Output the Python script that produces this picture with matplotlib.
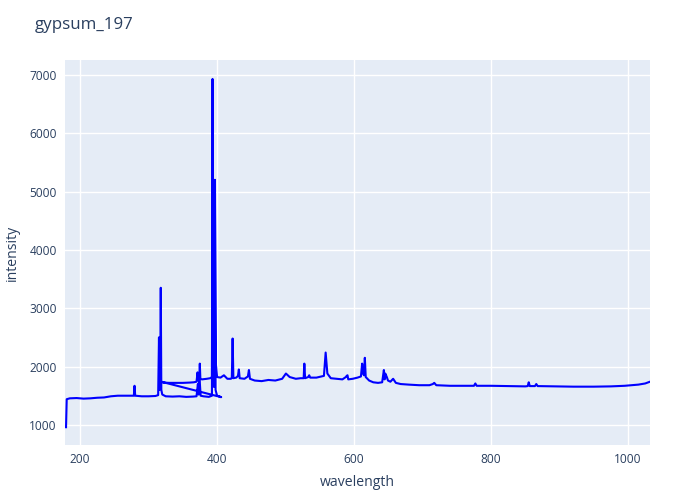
import numpy as np
import matplotlib
matplotlib.use("Agg")
import matplotlib.pyplot as plt

# segment 1 (lower baseline, UV range)
wl_a = [179.5, 180.5, 185, 195, 205, 215, 225, 235, 245, 255, 265, 275, 278.5, 279.5, 280.5,
        290, 300, 310, 314, 315.2, 316, 317, 317.8, 318.6, 320, 325, 335, 345, 355, 365, 370,
        372, 373, 374, 376, 380, 388, 392.5, 393.4, 394.3, 395.5, 396.8, 397.8, 400, 403, 406]
int_a = [960, 1440, 1455, 1460, 1450, 1455, 1465, 1470, 1490, 1500, 1500, 1500, 1500, 1670, 1500,
         1490, 1490, 1495, 1510, 2500, 1600, 1650, 3350, 1600, 1520, 1490, 1485, 1490, 1480, 1485, 1490,
         1700, 1520, 1880, 1500, 1490, 1480, 1500, 5750, 1700, 1650, 5200, 1600, 1500, 1490, 1475]

# segment 2 (upper baseline, visible / NIR range)
wl_b = [318.5, 322, 330, 340, 350, 360, 366, 370, 371.5, 372.5, 374, 374.8, 375.6, 378, 385,
        390, 392.5, 393.4, 394.2, 395.3, 396.2, 396.9, 397.8, 400, 405, 410, 415, 420, 421.5,
        422.7, 423.8, 428, 430.5, 431.8, 433, 440, 445, 446.5, 448, 455, 465, 475, 485, 495,
        500.5, 506, 515, 522, 526.4, 527.4, 528.5, 533, 534.5, 536, 545, 552, 556, 558.5, 561,
        566, 575, 583, 588, 589.2, 590.4, 591.5, 598, 605, 610, 611.8, 613, 614.5, 615.7, 617,
        622, 628, 635, 641, 643.5, 644.6, 645.5, 647.8, 649.5, 653, 657, 661, 668, 680, 695,
        710, 715, 717, 720, 740, 760, 775, 777, 779, 800, 830, 850, 853.5, 855, 856.5, 864,
        866, 868, 890, 920, 950, 975, 995, 1005, 1015, 1025, 1032]
int_b = [1740, 1725, 1720, 1720, 1720, 1725, 1730, 1740, 1900, 1760, 1780, 2050, 1790, 1780, 1790,
         1800, 1820, 6930, 2200, 2000, 3800, 5200, 2100, 1820, 1810, 1850, 1790, 1790, 1800,
         2480, 1800, 1810, 1840, 1950, 1800, 1790, 1830, 1940, 1790, 1760, 1750, 1770, 1760, 1790,
         1880, 1820, 1790, 1800, 1800, 2050, 1800, 1820, 1850, 1810, 1810, 1830, 1840, 2240, 1880,
         1800, 1790, 1780, 1820, 1840, 1850, 1780, 1790, 1810, 1830, 2050, 1880, 1850, 2150, 1820,
         1760, 1730, 1720, 1730, 1940, 1780, 1880, 1820, 1760, 1740, 1790, 1720, 1700, 1690, 1680,
         1680, 1700, 1720, 1680, 1670, 1670, 1670, 1710, 1670, 1670, 1665, 1660, 1665, 1730, 1665,
         1665, 1700, 1665, 1660, 1655, 1655, 1660, 1670, 1680, 1690, 1710, 1740]

x_ticks = [200, 400, 600, 800, 1000]
y_ticks = [1000, 2000, 3000, 4000, 5000, 6000, 7000]

wavelength = np.array(wl_a + wl_b)
intensity = np.array(int_a + int_b)

txt = "#2a3f5f"
plt.rcParams['font.family'] = ['Open Sans', 'DejaVu Sans']

fig = plt.figure(figsize=(7, 5), dpi=100)
ax = fig.add_axes([65 / 700, 55 / 500, 585 / 700, 385 / 500])
ax.set_facecolor("#E5ECF6")
ax.plot(wavelength, intensity, color="blue", linewidth=1.5)

ax.set_xlim(178, 1032)
ax.set_ylim(655, 7255)
ax.set_xticks(x_ticks)
ax.set_yticks(y_ticks)
ax.grid(True, color="white", linewidth=1)
ax.set_axisbelow(True)
for s in ax.spines.values():
    s.set_visible(False)
ax.tick_params(length=0, labelsize=8.6, labelcolor=txt, pad=6)

ax.set_xlabel("wavelength", fontsize=10.1, color=txt)
ax.xaxis.set_label_coords(0.5, -(483 - 445) / 385)
ax.xaxis.label.set_va("center")
ax.set_ylabel("intensity", fontsize=10.1, color=txt)
ax.yaxis.set_label_coords(-(65 - 12) / 585, 0.5)
ax.yaxis.label.set_va("center")
fig.text(35 / 700, 1 - 25 / 500, "gypsum_197", fontsize=12.2, color=txt, va="center", ha="left")

fig.savefig("out.png", dpi=100)
